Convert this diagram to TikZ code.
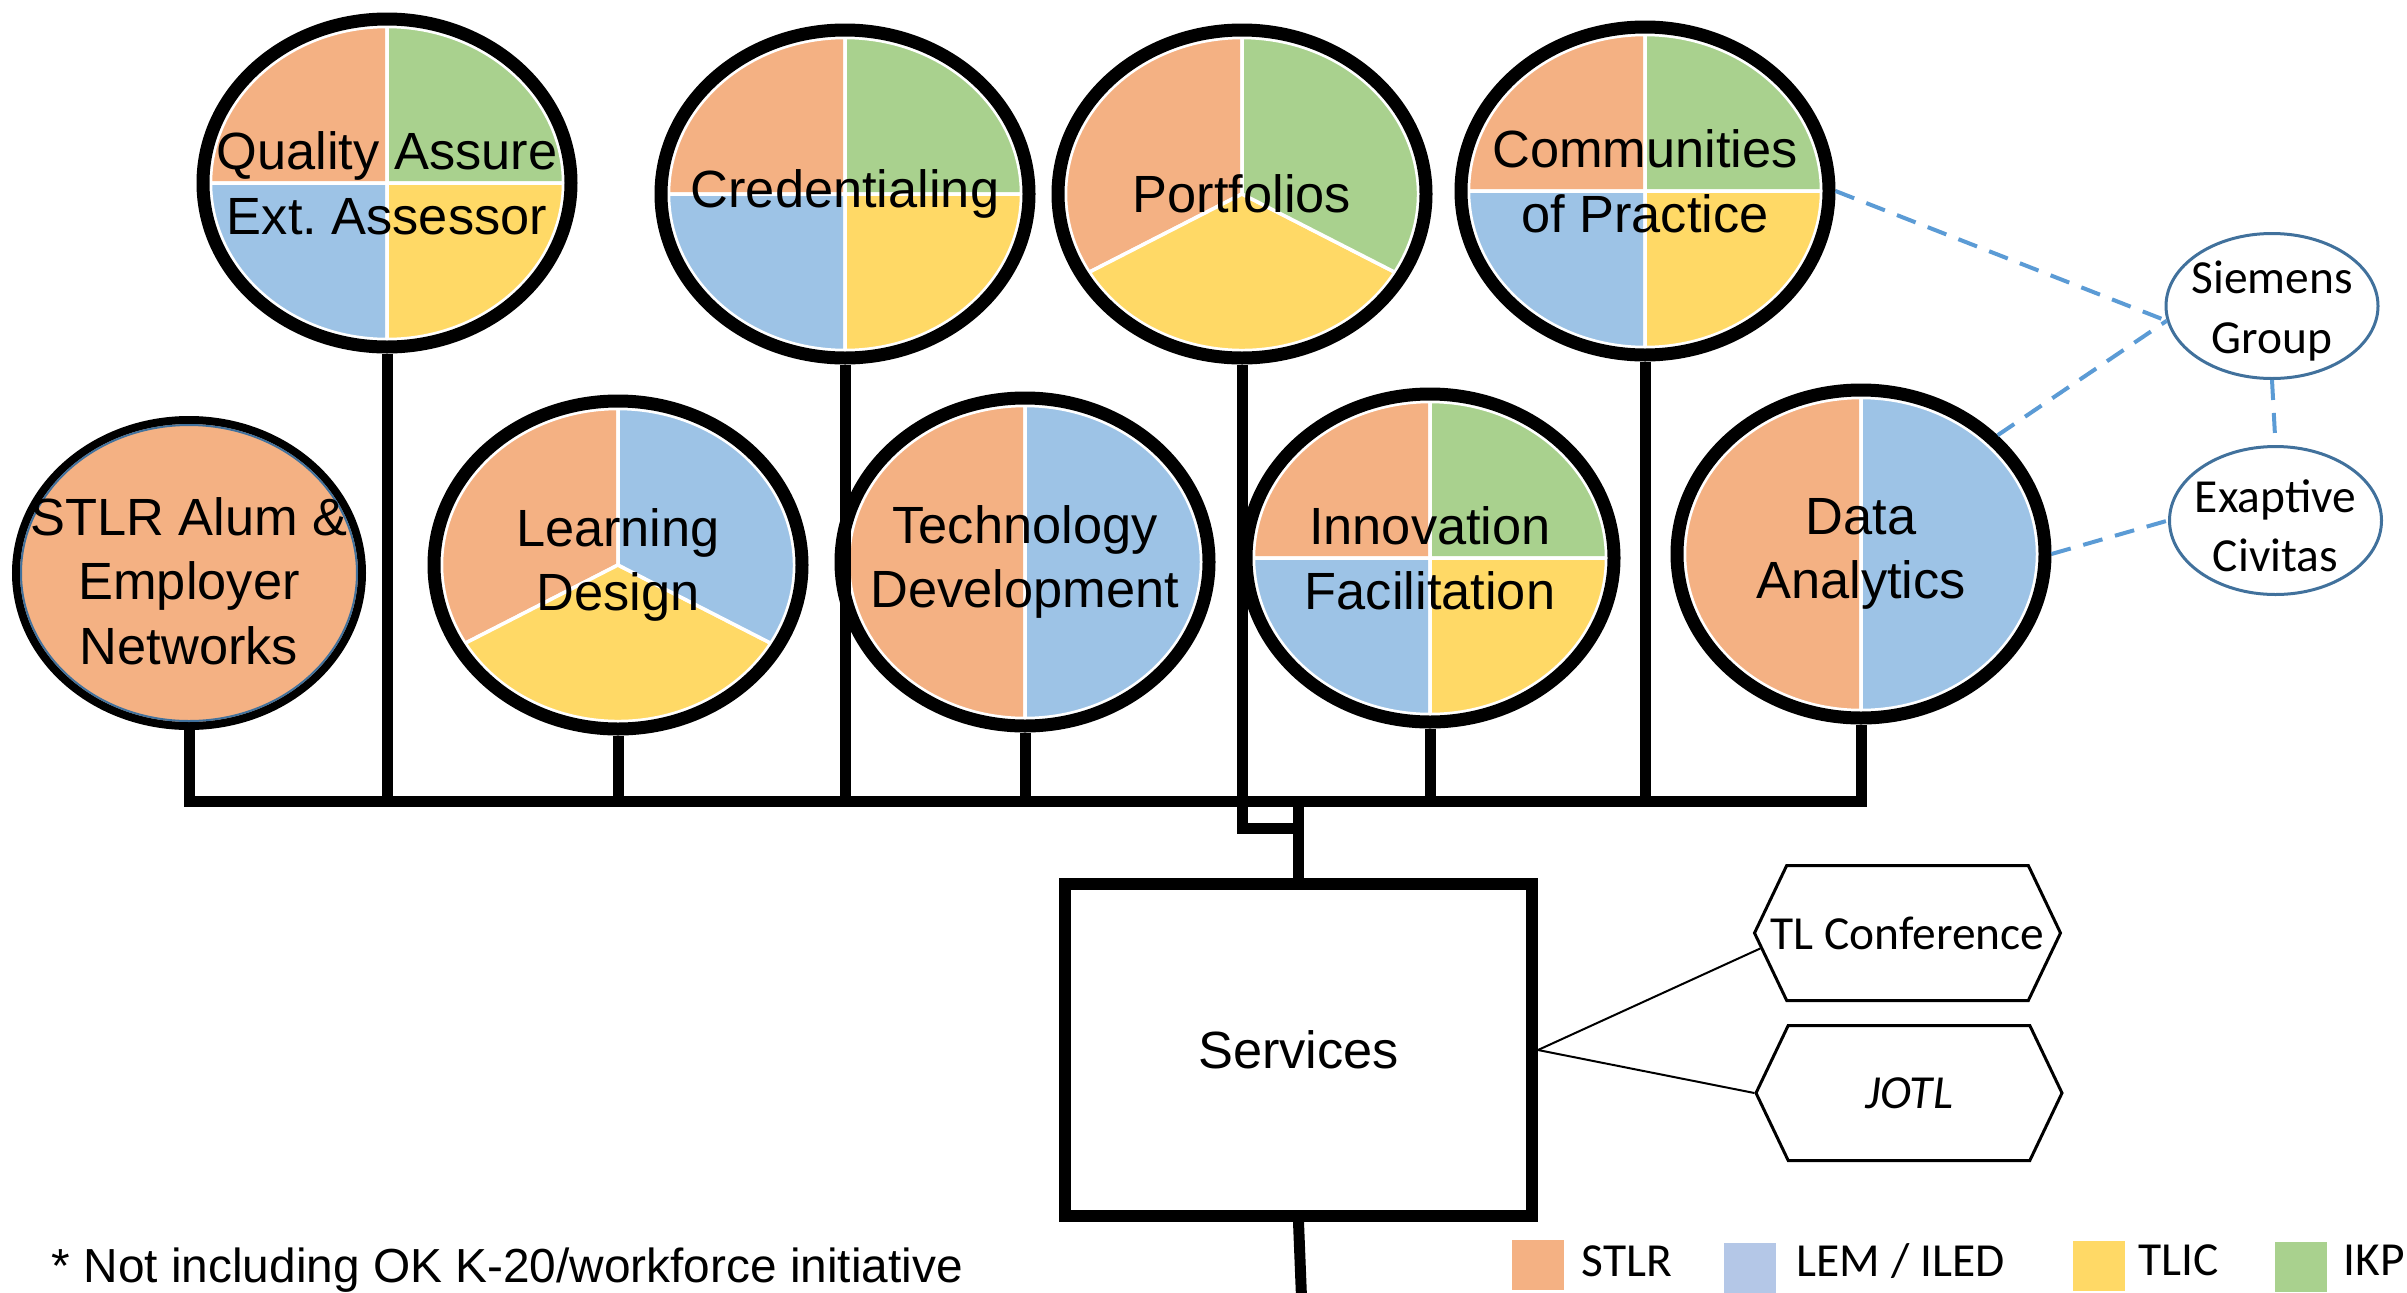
\documentclass[tikz,border=0pt]{standalone}
\usepackage{fontspec}
\setmainfont{Liberation Sans}
\newfontfamily\calibri{Carlito}
\usetikzlibrary{shapes.geometric,shapes.symbols}
\frenchspacing

\definecolor{stlr}{HTML}{F4B183}
\definecolor{lem}{HTML}{9DC3E6}
\definecolor{lemkey}{HTML}{B4C7E7}
\definecolor{tlic}{HTML}{FFD966}
\definecolor{ikp}{HTML}{A9D18E}
\definecolor{linkblue}{HTML}{5B9BD5}
\definecolor{edgeblue}{HTML}{41719C}

\tikzset{
  pieslice/.style={draw=white, line width=0.035cm},
  piering/.style={ellipse, draw, line width=0.13cm, minimum width=3.68cm, minimum height=3.28cm, inner sep=0pt},
  pietext/.style={align=center, inner sep=0pt, font=\fontsize{14.9}{18.4}\selectfont},
  busline/.style={line width=0.11cm},
  dashlink/.style={draw=linkblue, line width=0.04cm, dash pattern=on 0.2cm off 0.13cm},
  partner/.style={ellipse, draw=edgeblue, line width=0.03cm, minimum width=2.12cm, minimum height=1.45cm, inner sep=0pt},
  outlet/.style={signal, signal to=east and west, signal pointer angle=129, draw, line width=0.03cm, minimum width=3.06cm, minimum height=1.35cm, inner sep=0pt},
  tagtext/.style={align=center, inner sep=0pt, font=\calibri\fontsize{13.5}{16.8}\selectfont},
  swatch/.style={minimum width=0.52cm, minimum height=0.5cm, inner sep=0pt},
}

\begin{document}
\begin{tikzpicture}
\useasboundingbox (0,0) rectangle (24.07,-12.93);
\clip (0,0) rectangle (24.07,-12.93);
% Pie radii
\def\rx{1.765}
\def\ry{1.565}

% Top row of pies
\filldraw[pieslice, fill=stlr] (3.87,-1.83) -- ++(0,\ry) arc[start angle=90, end angle=180, x radius=\rx, y radius=\ry] -- cycle;
\filldraw[pieslice, fill=ikp] (3.87,-1.83) -- ++(\rx,0) arc[start angle=0, end angle=90, x radius=\rx, y radius=\ry] -- cycle;
\filldraw[pieslice, fill=lem] (3.87,-1.83) -- ++(-\rx,0) arc[start angle=180, end angle=270, x radius=\rx, y radius=\ry] -- cycle;
\filldraw[pieslice, fill=tlic] (3.87,-1.83) -- ++(0,-\ry) arc[start angle=270, end angle=360, x radius=\rx, y radius=\ry] -- cycle;
\node[piering] (qa) at (3.87,-1.83) {};
\node[pietext] (qatext) at (qa) {Quality Assure\\Ext. Assessor};

\filldraw[pieslice, fill=stlr] (8.45,-1.94) -- ++(0,\ry) arc[start angle=90, end angle=180, x radius=\rx, y radius=\ry] -- cycle;
\filldraw[pieslice, fill=ikp] (8.45,-1.94) -- ++(\rx,0) arc[start angle=0, end angle=90, x radius=\rx, y radius=\ry] -- cycle;
\filldraw[pieslice, fill=lem] (8.45,-1.94) -- ++(-\rx,0) arc[start angle=180, end angle=270, x radius=\rx, y radius=\ry] -- cycle;
\filldraw[pieslice, fill=tlic] (8.45,-1.94) -- ++(0,-\ry) arc[start angle=270, end angle=360, x radius=\rx, y radius=\ry] -- cycle;
\node[piering] (cred) at (8.45,-1.94) {};
\node[pietext] (credtext) at (cred) {Credentialing};

\filldraw[pieslice, fill=stlr] (12.42,-1.94) -- ++(0,\ry) arc[start angle=90, end angle=210, x radius=\rx, y radius=\ry] -- cycle;
\filldraw[pieslice, fill=tlic] (12.42,-1.94) -- ++(-1.5285,-0.7825) arc[start angle=210, end angle=330, x radius=\rx, y radius=\ry] -- cycle;
\filldraw[pieslice, fill=ikp] (12.42,-1.94) -- ++(1.5285,-0.7825) arc[start angle=-30, end angle=90, x radius=\rx, y radius=\ry] -- cycle;
\node[piering] (port) at (12.42,-1.94) {};
\node[pietext] (porttext) at (port) {Portfolios};

\filldraw[pieslice, fill=stlr] (16.45,-1.91) -- ++(0,\ry) arc[start angle=90, end angle=180, x radius=\rx, y radius=\ry] -- cycle;
\filldraw[pieslice, fill=ikp] (16.45,-1.91) -- ++(\rx,0) arc[start angle=0, end angle=90, x radius=\rx, y radius=\ry] -- cycle;
\filldraw[pieslice, fill=lem] (16.45,-1.91) -- ++(-\rx,0) arc[start angle=180, end angle=270, x radius=\rx, y radius=\ry] -- cycle;
\filldraw[pieslice, fill=tlic] (16.45,-1.91) -- ++(0,-\ry) arc[start angle=270, end angle=360, x radius=\rx, y radius=\ry] -- cycle;
\node[piering] (cop) at (16.45,-1.91) {};
\node[pietext] (coptext) at ([yshift=0.1cm]cop.center) {Communities\\of Practice};

% Bottom row of pies
\node[piering, fill=stlr, line width=0.08cm, minimum width=3.46cm, minimum height=3.06cm] (stlr) at (1.89,-5.73) {};
\draw[edgeblue, line width=0.02cm] (stlr.center) ellipse [x radius=1.68, y radius=1.48];
\node[pietext] (stlrtext) at ([yshift=-0.08cm]stlr.center) {STLR Alum \&\\Employer\\Networks};

\filldraw[pieslice, fill=stlr] (6.18,-5.65) -- ++(0,\ry) arc[start angle=90, end angle=210, x radius=\rx, y radius=\ry] -- cycle;
\filldraw[pieslice, fill=tlic] (6.18,-5.65) -- ++(-1.5285,-0.7825) arc[start angle=210, end angle=330, x radius=\rx, y radius=\ry] -- cycle;
\filldraw[pieslice, fill=lem] (6.18,-5.65) -- ++(1.5285,-0.7825) arc[start angle=-30, end angle=90, x radius=\rx, y radius=\ry] -- cycle;
\node[piering] (ld) at (6.18,-5.65) {};
\node[pietext] (ldtext) at (ld) {Learning\\Design};

\filldraw[pieslice, fill=stlr] (10.25,-5.62) -- ++(0,\ry) arc[start angle=90, end angle=270, x radius=\rx, y radius=\ry] -- cycle;
\filldraw[pieslice, fill=lem] (10.25,-5.62) -- ++(0,-\ry) arc[start angle=-90, end angle=90, x radius=\rx, y radius=\ry] -- cycle;
\node[piering] (tech) at (10.25,-5.62) {};
\node[pietext] (techtext) at (tech) {Technology\\Development};

\filldraw[pieslice, fill=stlr] (14.30,-5.58) -- ++(0,\ry) arc[start angle=90, end angle=180, x radius=\rx, y radius=\ry] -- cycle;
\filldraw[pieslice, fill=ikp] (14.30,-5.58) -- ++(\rx,0) arc[start angle=0, end angle=90, x radius=\rx, y radius=\ry] -- cycle;
\filldraw[pieslice, fill=lem] (14.30,-5.58) -- ++(-\rx,0) arc[start angle=180, end angle=270, x radius=\rx, y radius=\ry] -- cycle;
\filldraw[pieslice, fill=tlic] (14.30,-5.58) -- ++(0,-\ry) arc[start angle=270, end angle=360, x radius=\rx, y radius=\ry] -- cycle;
\node[piering] (innov) at (14.30,-5.58) {};
\node[pietext] (innovtext) at (innov) {Innovation\\Facilitation};

\filldraw[pieslice, fill=stlr] (18.61,-5.54) -- ++(0,\ry) arc[start angle=90, end angle=270, x radius=\rx, y radius=\ry] -- cycle;
\filldraw[pieslice, fill=lem] (18.61,-5.54) -- ++(0,-\ry) arc[start angle=-90, end angle=90, x radius=\rx, y radius=\ry] -- cycle;
\node[piering] (data) at (18.61,-5.54) {};
\node[pietext] (datatext) at (data) {Data\\Analytics};

% Partners
\node[partner] (siem) at (22.72,-3.06) {};
\node[tagtext] (siemtext) at ([yshift=-0.05cm]siem.center) {Siemens\\Group};
\node[partner, minimum height=1.48cm] (exap) at (22.755,-5.205) {};
\node[tagtext] (exaptext) at ([yshift=-0.05cm]exap.center) {Exaptive\\Civitas};
\draw[dashlink] (cop.east) -- (siem.188);
\draw[dashlink] (data.41) -- (siem.188);
\draw[dashlink] (siem.south) -- (exap.north);
\draw[dashlink] (data.east) -- (exap.west);

% Services and outlets
\node[draw, line width=0.12cm, minimum width=4.67cm, minimum height=3.32cm, font=\fontsize{14.9}{18.4}\selectfont] (svc) at (12.985,-10.50) {Services};
\node[outlet] (tlc) at (19.075,-9.33) {};
\node[tagtext] (tlctext) at (tlc) {TL Conference};
\node[outlet] (jotl) at (19.09,-10.93) {};
\node[tagtext] (jotltext) at (jotl) {\itshape JOTL};
\draw[line width=0.02cm] (svc.east) -- (tlc.186);
\draw[line width=0.02cm] (svc.east) -- (jotl.west);

% Bus
\coordinate (bus) at (0,-8.01);
\draw[busline] (stlr.south) |- (bus -| data.south) -- (data.south);
\draw[busline] (qa.south) -- (qa.south |- bus);
\draw[busline] (cred.south) -- (cred.south |- bus);
\draw[busline] (cop.south) -- (cop.south |- bus);
\draw[busline] (ld.south) -- (ld.south |- bus);
\draw[busline] (tech.south) -- (tech.south |- bus);
\draw[busline] (innov.south) -- (innov.south |- bus);
\draw[busline] (port.south) |- ([yshift=0.5cm]svc.north);
\draw[busline] (svc.north) -- (svc.north |- bus);
\coordinate (tail) at (13.02,-13.1);
\draw[busline] (svc.south) -- (tail);

% Legend and note
\node[swatch, fill=stlr] (kstlr) at (15.375,-12.65) {};
\node[tagtext, anchor=base west] (kstlrtext) at (15.81,-12.76) {STLR};
\node[swatch, fill=lemkey] (klem) at (17.50,-12.675) {};
\node[tagtext, anchor=base west] (klemtext) at (17.96,-12.76) {LEM / ILED};
\node[swatch, fill=tlic] (ktlic) at (20.985,-12.655) {};
\node[tagtext, anchor=base west] (ktlictext) at (21.38,-12.75) {TLIC};
\node[swatch, fill=ikp] (kikp) at (23.005,-12.665) {};
\node[tagtext, anchor=base west] (kikptext) at (23.43,-12.75) {IKP};
\node[anchor=base west, inner sep=0pt, font=\fontsize{13.6}{16}\selectfont] (note) at (0.51,-12.82) {* Not including OK K-20/workforce initiative};
\end{tikzpicture}
\end{document}
